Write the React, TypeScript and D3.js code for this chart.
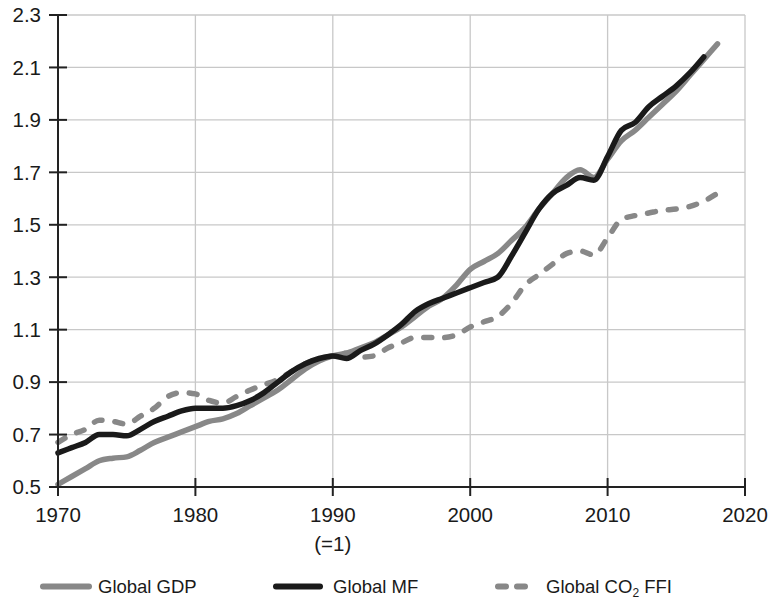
import React, { useEffect, useRef } from "react";
import * as d3 from "d3";

const years = d3.range(1970, 2019);
const gdp = [0.51, 0.54, 0.57, 0.60, 0.61, 0.615, 0.64, 0.67, 0.69, 0.71, 0.73, 0.75, 0.76, 0.78, 0.81, 0.84, 0.87, 0.91, 0.95, 0.98, 1.0, 1.01, 1.03, 1.05, 1.08, 1.11, 1.15, 1.19, 1.22, 1.27, 1.33, 1.36, 1.39, 1.44, 1.49, 1.56, 1.62, 1.68, 1.71, 1.68, 1.75, 1.82, 1.86, 1.91, 1.96, 2.01, 2.07, 2.13, 2.19];
const mf = [0.63, 0.65, 0.67, 0.70, 0.70, 0.695, 0.72, 0.75, 0.77, 0.79, 0.80, 0.80, 0.80, 0.81, 0.83, 0.86, 0.90, 0.94, 0.97, 0.99, 1.0, 0.99, 1.02, 1.045, 1.08, 1.12, 1.17, 1.20, 1.22, 1.24, 1.26, 1.28, 1.30, 1.38, 1.47, 1.56, 1.62, 1.65, 1.68, 1.67, 1.76, 1.86, 1.89, 1.95, 1.99, 2.03, 2.08, 2.14];
const co2 = [0.67, 0.70, 0.72, 0.755, 0.75, 0.74, 0.77, 0.80, 0.845, 0.86, 0.855, 0.83, 0.82, 0.845, 0.87, 0.89, 0.91, 0.94, 0.97, 0.99, 1.0, 1.01, 0.995, 1.0, 1.03, 1.05, 1.07, 1.07, 1.07, 1.08, 1.11, 1.13, 1.15, 1.20, 1.27, 1.31, 1.35, 1.39, 1.40, 1.385, 1.45, 1.52, 1.535, 1.545, 1.555, 1.56, 1.57, 1.59, 1.62];
const yTicks = [0.5, 0.7, 0.9, 1.1, 1.3, 1.5, 1.7, 1.9, 2.1, 2.3];
const xTicks = [1970, 1980, 1990, 2000, 2010, 2020];
const legendItems = ["Global GDP", "Global MF", "Global CO2 FFI"];

export default function App() {
  const ref = useRef<SVGSVGElement>(null);
  useEffect(() => {
    const svg = d3.select(ref.current);
    svg.selectAll("*").remove();
    const x = d3.scaleLinear().domain([1970, 2020]).range([58, 745]);
    const y = d3.scaleLinear().domain([0.5, 2.3]).range([487, 15]);
    const font = "'Liberation Sans', Arial, sans-serif";
    const g = svg.append("g");

    // grid
    g.selectAll(".hg").data(yTicks).join("line")
      .attr("x1", x(1970)).attr("x2", x(2020))
      .attr("y1", (d) => y(d)).attr("y2", (d) => y(d))
      .attr("stroke", "#c8c8c8").attr("stroke-width", 1.3);
    g.selectAll(".vg").data(xTicks).join("line")
      .attr("x1", (d) => x(d)).attr("x2", (d) => x(d))
      .attr("y1", y(2.3)).attr("y2", y(0.5))
      .attr("stroke", "#c8c8c8").attr("stroke-width", 1.3);

    // series
    const mk = (vals: number[]) =>
      d3.line<number>().x((_, i) => x(years[i])).y((d) => y(d)).curve(d3.curveMonotoneX)(vals);
    g.append("path").attr("d", mk(co2)).attr("fill", "none").attr("stroke", "#888")
      .attr("stroke-width", 5.5).attr("stroke-dasharray", "8 13").attr("stroke-linecap", "round");
    g.append("path").attr("d", mk(gdp)).attr("fill", "none").attr("stroke", "#888")
      .attr("stroke-width", 5.5).attr("stroke-linecap", "round");
    g.append("path").attr("d", mk(mf)).attr("fill", "none").attr("stroke", "#1a1a1a")
      .attr("stroke-width", 5.5).attr("stroke-linecap", "round");

    // axes
    const ax = g.append("g").attr("stroke", "#222").attr("stroke-width", 2);
    ax.append("line").attr("x1", x(1970)).attr("x2", x(1970)).attr("y1", y(2.3)).attr("y2", y(0.5));
    ax.append("line").attr("x1", x(1970)).attr("x2", x(2020)).attr("y1", y(0.5)).attr("y2", y(0.5));
    ax.selectAll(".yt").data(yTicks).join("line")
      .attr("x1", x(1970) - 9).attr("x2", x(1970) + 9)
      .attr("y1", (d) => y(d)).attr("y2", (d) => y(d));
    ax.selectAll(".xt").data(xTicks).join("line")
      .attr("x1", (d) => x(d)).attr("x2", (d) => x(d))
      .attr("y1", y(0.5) - 9).attr("y2", y(0.5) + 9);

    g.selectAll(".yl").data(yTicks).join("text")
      .attr("x", 41).attr("y", (d) => y(d)).attr("dy", "0.36em")
      .attr("text-anchor", "end").attr("font-family", font).attr("font-size", 20.5)
      .attr("fill", "#1a1a1a").text((d) => d.toFixed(1));
    g.selectAll(".xl").data(xTicks).join("text")
      .attr("x", (d) => x(d)).attr("y", 522)
      .attr("text-anchor", "middle").attr("font-family", font).attr("font-size", 20.5)
      .attr("fill", "#1a1a1a").text((d) => String(d));
    g.append("text").attr("x", x(1990)).attr("y", 551).attr("text-anchor", "middle")
      .attr("font-family", font).attr("font-size", 20.5).attr("fill", "#1a1a1a").text("(=1)");

    // legend
    const ly = 586.5;
    const lg = g.append("g").attr("font-family", font).attr("font-size", 18.5).attr("fill", "#1a1a1a");
    lg.append("line").attr("x1", 43).attr("x2", 89).attr("y1", ly).attr("y2", ly)
      .attr("stroke", "#888").attr("stroke-width", 6).attr("stroke-linecap", "round");
    lg.append("text").attr("x", 98).attr("y", ly).attr("dy", "0.36em").text(legendItems[0]);
    lg.append("line").attr("x1", 276).attr("x2", 320).attr("y1", ly).attr("y2", ly)
      .attr("stroke", "#1a1a1a").attr("stroke-width", 6).attr("stroke-linecap", "round");
    lg.append("text").attr("x", 333).attr("y", ly).attr("dy", "0.36em").text(legendItems[1]);
    lg.append("line").attr("x1", 498).attr("x2", 530).attr("y1", ly).attr("y2", ly)
      .attr("stroke", "#888").attr("stroke-width", 6).attr("stroke-linecap", "round")
      .attr("stroke-dasharray", "8 11");
    const t = lg.append("text").attr("x", 546).attr("y", ly).attr("dy", "0.36em");
    t.append("tspan").text("Global CO");
    t.append("tspan").attr("font-size", 12).attr("dy", 4).text("2");
    t.append("tspan").attr("dy", -4).text(" FFI");
  }, []);
  return (
    <svg ref={ref} width={775} height={601}
      style={{ position: "absolute", left: 0, top: 0, background: "#fff" }} />
  );
}
